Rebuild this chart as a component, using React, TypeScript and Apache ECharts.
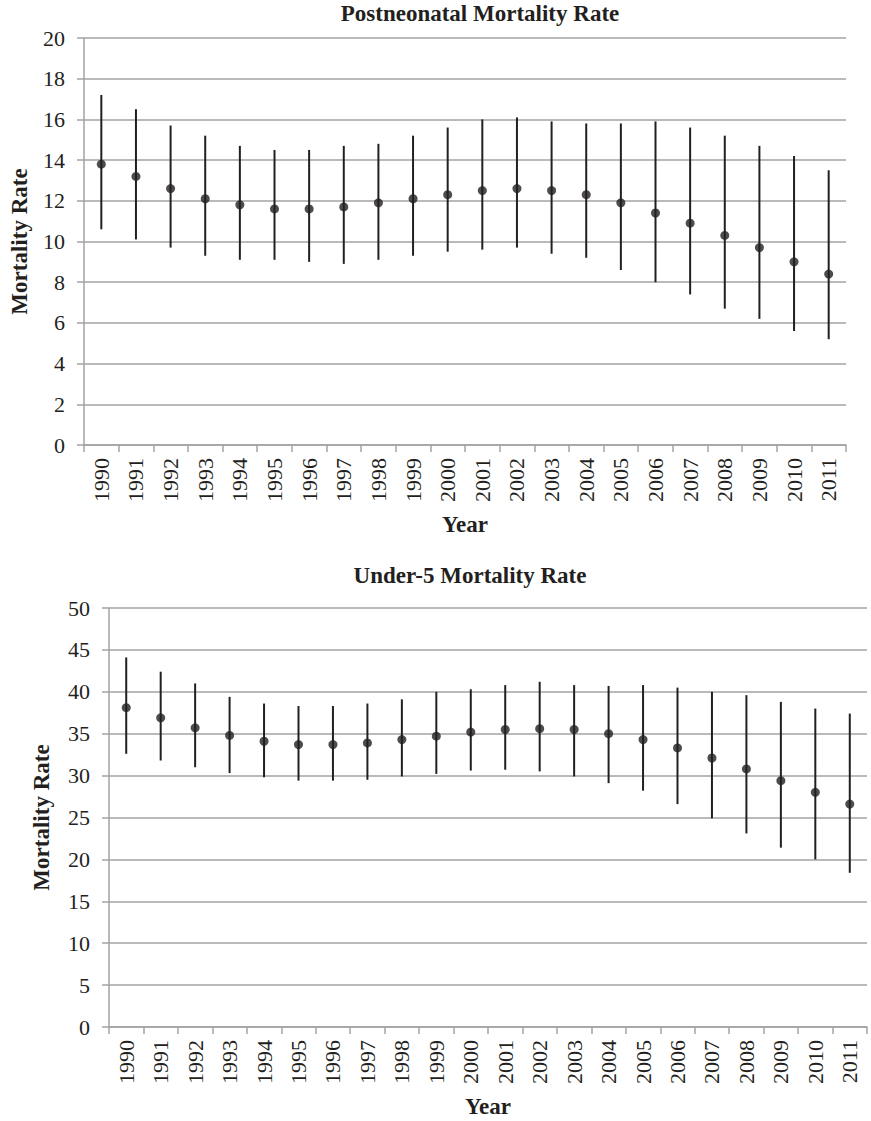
import React, { useEffect, useRef } from "react";
import * as echarts from "echarts";

const years = ["1990","1991","1992","1993","1994","1995","1996","1997","1998","1999","2000","2001","2002","2003","2004","2005","2006","2007","2008","2009","2010","2011"];

const pnmrValue = [13.8,13.2,12.6,12.1,11.8,11.6,11.6,11.7,11.9,12.1,12.3,12.5,12.6,12.5,12.3,11.9,11.4,10.9,10.3,9.7,9.0,8.4];
const pnmrLow = [10.6,10.1,9.7,9.3,9.1,9.1,9.0,8.9,9.1,9.3,9.5,9.6,9.7,9.4,9.2,8.6,8.0,7.4,6.7,6.2,5.6,5.2];
const pnmrHigh = [17.2,16.5,15.7,15.2,14.7,14.5,14.5,14.7,14.8,15.2,15.6,16.0,16.1,15.9,15.8,15.8,15.9,15.6,15.2,14.7,14.2,13.5];

const u5Value = [38.1,36.9,35.7,34.8,34.1,33.7,33.7,33.9,34.3,34.7,35.2,35.5,35.6,35.5,35.0,34.3,33.3,32.1,30.8,29.4,28.0,26.6];
const u5Low = [32.6,31.8,31.0,30.3,29.8,29.4,29.4,29.5,29.9,30.2,30.6,30.7,30.5,29.9,29.1,28.2,26.6,24.9,23.1,21.4,20.0,18.4];
const u5High = [44.1,42.4,41.0,39.4,38.6,38.3,38.3,38.6,39.1,40.0,40.3,40.8,41.2,40.8,40.7,40.8,40.5,40.0,39.6,38.8,38.0,37.4];

const topTicks = { min: 0, max: 20, interval: 2 };
const bottomTicks = { min: 0, max: 50, interval: 5 };

const FONT = "Liberation Serif";
const GRAY = "#a3a3a3";
const INK = "#231f20";

function makeAxes(gridIndex: number, ticks: { min: number; max: number; interval: number }, yGap: number) {
  const xAxis = {
    type: "category",
    gridIndex,
    data: years,
    boundaryGap: true,
    name: "Year",
    nameLocation: "middle",
    nameGap: 68,
    nameTextStyle: { fontFamily: FONT, fontSize: 23, fontWeight: "bold", color: INK },
    axisLine: { show: true, lineStyle: { color: GRAY, width: 1.5 } },
    axisTick: { show: true, length: 7, lineStyle: { color: GRAY, width: 1.5 } },
    axisLabel: { rotate: 90, margin: 13, fontFamily: FONT, fontSize: 22, color: INK, interval: 0 },
    splitLine: { show: false },
  };
  const yAxis = {
    type: "value",
    gridIndex,
    min: ticks.min,
    max: ticks.max,
    interval: ticks.interval,
    name: "Mortality Rate",
    nameLocation: "middle",
    nameGap: yGap,
    nameTextStyle: { fontFamily: FONT, fontSize: 23, fontWeight: "bold", color: INK },
    axisLine: { show: true, lineStyle: { color: GRAY, width: 1.5 } },
    axisTick: { show: true, length: 7, lineStyle: { color: GRAY, width: 1.5 } },
    axisLabel: { margin: 19, fontFamily: FONT, fontSize: 22, color: INK },
    splitLine: { show: true, lineStyle: { color: GRAY, width: 1.5 } },
  };
  return { xAxis, yAxis };
}

function errorSeries(idx: number, low: number[], high: number[]) {
  return {
    type: "custom",
    xAxisIndex: idx,
    yAxisIndex: idx,
    data: years.map((_, i) => [i, low[i], high[i]]),
    encode: { x: 0, y: [1, 2] },
    renderItem: (params: any, api: any) => {
      const x = api.value(0);
      const a = api.coord([x, api.value(1)]);
      const b = api.coord([x, api.value(2)]);
      return {
        type: "line",
        shape: { x1: a[0], y1: a[1], x2: b[0], y2: b[1] },
        style: { stroke: INK, lineWidth: 2 },
      };
    },
    z: 2,
  };
}

function pointSeries(idx: number, values: number[]) {
  return {
    type: "scatter",
    xAxisIndex: idx,
    yAxisIndex: idx,
    data: values,
    symbol: "circle",
    symbolSize: 9,
    itemStyle: { color: INK },
    z: 3,
  };
}

export default function App() {
  const ref = useRef<HTMLDivElement>(null);
  useEffect(() => {
    if (!ref.current) return;
    const chart = echarts.init(ref.current, null, { renderer: "svg" });
    const a = makeAxes(0, topTicks, 53);
    const b = makeAxes(1, bottomTicks, 56);
    chart.setOption({
      animation: false,
      backgroundColor: "#ffffff",
      textStyle: { fontFamily: FONT },
      grid: [
        { left: 81, top: 38, width: 765, height: 407 },
        { left: 109, top: 608, width: 758, height: 419 },
      ],
      graphic: [
        {
          type: "text",
          x: 480,
          y: 2,
          style: { text: "Postneonatal Mortality Rate", fontFamily: FONT, fontSize: 23, fontWeight: "bold", fill: INK, textAlign: "center", textVerticalAlign: "top" },
        },
        {
          type: "text",
          x: 470,
          y: 564,
          style: { text: "Under-5 Mortality Rate", fontFamily: FONT, fontSize: 23, fontWeight: "bold", fill: INK, textAlign: "center", textVerticalAlign: "top" },
        },
      ],
      xAxis: [a.xAxis, b.xAxis],
      yAxis: [a.yAxis, b.yAxis],
      series: [
        errorSeries(0, pnmrLow, pnmrHigh),
        pointSeries(0, pnmrValue),
        errorSeries(1, u5Low, u5High),
        pointSeries(1, u5Value),
      ],
    });
    return () => chart.dispose();
  }, []);
  return <div ref={ref} style={{ position: "absolute", left: 0, top: 0, width: 871, height: 1121 }} />;
}
